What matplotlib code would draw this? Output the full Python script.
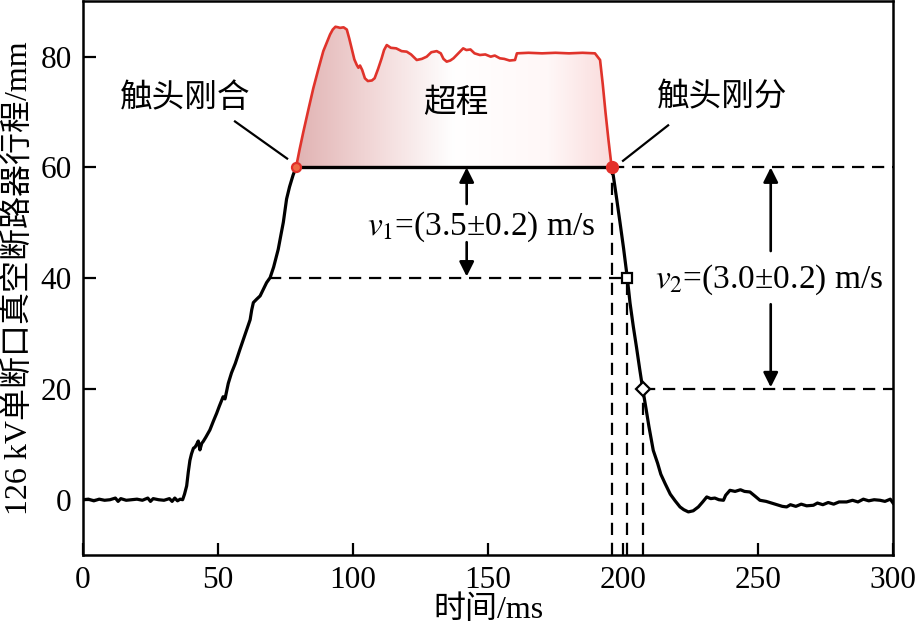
#!/usr/bin/env python3
"""Travel curve of a 126 kV single-break vacuum circuit breaker (closing / over-travel / opening)."""

import matplotlib
matplotlib.use("Agg")
import matplotlib.pyplot as plt
import numpy as np
from matplotlib.colors import LinearSegmentedColormap

plt.rcParams["font.family"] = ["Liberation Serif", "Noto Sans CJK SC", "DejaVu Sans"]
plt.rcParams["mathtext.fontset"] = "stix"

# closing stroke (black)
time_close = [0, 2, 4, 6, 8, 10, 12, 13, 14, 16, 18, 20, 22, 24, 25, 26, 28, 30, 32, 33, 34, 35, 36,
              36.9, 37.6, 38.4, 39.0, 39.6, 40.2, 40.9, 41.5, 42.0, 42.7, 43.3, 44.0, 44.5, 45.5,
              47.0, 48.3, 49.5, 50.5, 51.9, 52.6, 53.8, 55.0, 56.4, 58.1, 60.0, 61.2, 61.9, 62.5,
              63.1, 64.3, 65.6, 67.0, 68.0, 69.3, 70.6, 72.3, 73.3, 74.2, 75.4, 76.5, 77.8, 78.9]
travel_close = [0, 0.1, -0.2, 0.1, -0.1, 0.0, 0.3, -0.3, 0.2, -0.1, 0.0, 0.1, -0.1, 0.3, -0.3, 0.2,
                0.0, -0.1, 0.2, -0.3, 0.3, -0.2, 0.1,
                0.0, 1.0, 2.5, 5.0, 7.1, 8.3, 9.3, 9.5, 9.9, 10.6, 9.0, 10.2, 10.5, 11.3,
                12.6, 14.2, 15.6, 16.9, 18.6, 18.2, 21.0, 22.9, 24.6, 27.1, 29.8, 31.5, 32.5, 34.3,
                35.6, 36.2, 36.8, 38.2, 39.2, 40.1, 42.0, 45.2, 47.8, 50.1, 54.3, 56.5, 58.6, 60.0]

# over-travel (red)
time_over = [78.9, 80.2, 81.6, 83.5, 85.3, 87.2, 89.0, 90.5, 91.5, 92.5, 93.5, 94.5, 95.2, 96.5, 97.7,
             98.6, 99.5, 100.5, 101.4, 102.0, 102.6, 103.4, 104.4, 105.5, 107.0, 108.0, 109.3, 110.6,
             111.5, 112.5, 114, 116, 118, 119.9, 121.5, 123.6, 125.5, 127.3, 129, 131, 132.5, 133.5,
             134.7, 136, 137.2, 139, 140.8, 142, 143.5, 145, 147, 149, 151, 152.5, 154.4, 156, 158,
             160, 160.7, 165, 170, 175, 180, 185, 189.6, 191.5, 192.5, 193.5, 194.6, 195.8]
travel_over = [60.0, 63.2, 66.4, 70.5, 74.3, 77.8, 81.0, 82.8, 84.0, 84.9, 85.4, 85.3, 85.2, 85.3, 84.9,
               83.3, 81.5, 79.5, 78.5, 78.0, 78.4, 77.6, 76.1, 75.6, 75.7, 76.1, 77.8, 79.7,
               81.2, 82.1, 81.6, 81.5, 81.0, 80.9, 80.4, 79.4, 79.6, 80.0, 80.8, 81.0, 80.6, 79.6,
               79.1, 79.3, 79.7, 80.6, 81.5, 81.2, 81.3, 80.6, 80.3, 80.4, 80.0, 80.2, 79.7, 79.6, 79.3,
               79.4, 80.6, 80.7, 80.6, 80.7, 80.6, 80.7, 80.6, 79.4, 75.0, 70.0, 65.0, 60.0]

# opening stroke (black)
time_open = [195.8, 196.4, 197.6, 198.9, 200.2, 201.6, 202.6, 203.8, 205.0, 206.2, 207.3, 208.5, 209.6,
             211.2, 212.8, 214.0, 215.6, 217.5, 219.3, 221.1, 222.5, 224.2, 226.0, 227.9, 229.5, 231.0,
             232.5, 234.0, 235.5, 237.2, 238.0, 239.6, 241.5, 243.5, 245.0, 247.0, 249.0, 250.7, 253,
             255, 257, 259, 260.6, 262, 264, 266, 268, 270.5, 272, 274, 276, 278, 280, 282.8, 285,
             287, 289, 291, 293, 295.2, 297, 299, 300]
travel_open = [60.0, 58.5, 54.5, 50.0, 45.4, 40.0, 35.5, 31.3, 27.5, 23.5, 20.0, 16.5, 13.2,
               8.9, 6.6, 4.6, 2.9, 1.0, -0.2, -1.3, -1.8, -2.2, -2.0, -1.3, -0.4, 0.5,
               0.2, 0.3, 0.0, -0.1, 0.8, 1.7, 1.5, 1.8, 1.5, 1.4, 0.6, -0.1, -0.3,
               -0.6, -0.9, -1.2, -1.3, -0.9, -1.2, -0.8, -1.1, -1.0, -0.6, -0.9, -0.5, -0.8, -0.4, -0.4, -0.1,
               -0.4, 0.1, -0.2, 0.0, -0.1, -0.3, 0.1, -0.6]

# characteristic points
t_touch, s_touch = 78.9, 60
t_sep, s_sep = 195.8, 60
t_40, t_20 = 201.6, 207.3

x_ticks = [0, 50, 100, 150, 200, 250, 300]
y_ticks = [0, 20, 40, 60, 80]


def main():
    fig = plt.figure(figsize=(9.2, 6.41), dpi=100)
    ax = fig.add_axes([0.0902, 0.134, 0.8805, 0.864])
    ax.set_xlim(0, 300)
    ax.set_ylim(-10, 90)

    # gradient fill of the over-travel region
    poly = ax.fill_between(time_over, travel_over, s_touch, color="none", lw=0)
    cmap = LinearSegmentedColormap.from_list(
        "over", [(0.0, (0.88, 0.70, 0.70)), (0.25, (0.95, 0.85, 0.85)), (0.5, (1, 1, 1)),
                 (0.8, (1, 0.97, 0.97)), (1.0, (0.98, 0.86, 0.86))])
    grad = np.linspace(0, 1, 256).reshape(1, -1)
    img = ax.imshow(grad, cmap=cmap, aspect="auto", extent=[t_touch, t_sep, s_touch, 86],
                    origin="lower", zorder=1)
    img.set_clip_path(poly.get_paths()[0], transform=ax.transData)

    dash = (0, (5.5, 3.5))
    dlw = 1.6
    ax.plot([t_sep, 300], [60, 60], color="black", lw=dlw, ls=dash, zorder=2)
    ax.plot([68.8, t_40], [40, 40], color="black", lw=dlw, ls=dash, zorder=2)
    ax.plot([t_20, 300], [20, 20], color="black", lw=dlw, ls=dash, zorder=2)
    ax.plot([t_sep, t_sep], [-10, 60], color="black", lw=dlw, ls=dash, zorder=2)
    ax.plot([t_40, t_40], [-10, 40], color="black", lw=dlw, ls=dash, zorder=2)
    ax.plot([t_20, t_20], [-10, 20], color="black", lw=dlw, ls=dash, zorder=2)

    ax.plot([t_touch, t_sep], [60, 60], color="black", lw=2.4, zorder=3)
    ax.plot(time_close, travel_close, color="black", lw=2.3, zorder=4)
    ax.plot(time_open, travel_open, color="black", lw=2.3, zorder=4)
    ax.plot(time_over, travel_over, color="#e0332b", lw=1.9, zorder=4)

    ax.plot(t_touch, s_touch, "o", ms=6.5, mfc="#f06a45", mec="#e0302a", mew=1.6, zorder=6)
    ax.plot(t_sep, s_sep, "o", ms=8.5, mfc="#e4302a", mec="#e4302a", zorder=6)
    ax.plot(t_40, 40, "s", ms=6.5, mfc="white", mec="black", mew=1.6, zorder=6)
    ax.plot(t_20, 20, "D", ms=7, mfc="white", mec="black", mew=1.6, zorder=6)

    # leader lines and labels
    ax.plot([56.3, 75.6], [68.3, 61.6], color="black", lw=1.6, zorder=5)
    ax.plot([200.0, 216.7], [61.2, 67.6], color="black", lw=1.6, zorder=5)
    ax.text(37.8, 72.5, "触头刚合", fontsize=23.5, ha="center", va="center")
    ax.text(236.7, 72.5, "触头刚分", fontsize=23.5, ha="center", va="center")
    ax.text(138, 71.5, "超程", fontsize=23.5, ha="center", va="center")

    arrow = dict(arrowstyle="-|>", color="black", lw=1.9, mutation_scale=22, shrinkA=0, shrinkB=0)
    ax.annotate("", xy=(142.1, 60), xytext=(142.1, 53.4), arrowprops=arrow)
    ax.annotate("", xy=(142.1, 40.3), xytext=(142.1, 46.5), arrowprops=arrow)
    ax.text(147.6, 49.2, r"$v_1$=(3.5±0.2) m/s", fontsize=24, ha="center", va="center")

    ax.annotate("", xy=(254.7, 60), xytext=(254.7, 44.9), arrowprops=arrow)
    ax.annotate("", xy=(254.7, 20.3), xytext=(254.7, 35.3), arrowprops=arrow)
    ax.text(254.0, 39.8, r"$v_2$=(3.0±0.2) m/s", fontsize=24, ha="center", va="center",
            bbox=dict(facecolor="white", edgecolor="none", pad=1))

    ax.set_xticks(x_ticks)
    ax.set_yticks(y_ticks)
    ax.tick_params(direction="in", length=9, width=1.6, labelsize=22.5, pad=8)
    for spine in ax.spines.values():
        spine.set_linewidth(1.8)
    ax.set_xlabel("时间/ms", fontsize=23, labelpad=0)
    ax.set_ylabel("126 kV单断口真空断路器行程/mm", fontsize=23, labelpad=5)

    fig.savefig("out.png", dpi=100)
    plt.close(fig)


if __name__ == "__main__":
    main()
